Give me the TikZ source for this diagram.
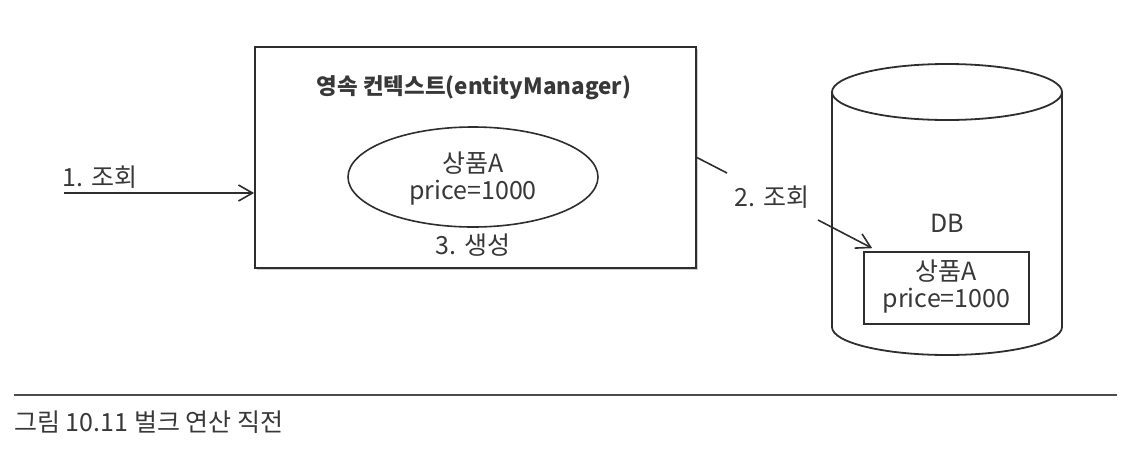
\documentclass[tikz,border=0pt]{standalone}
\usepackage{fontspec}
\setmainfont{Noto Sans CJK KR}
\usepackage{tikz}
\usetikzlibrary{arrows.meta,shapes.geometric,shadows,calc}
\tikzset{>={Straight Barb[length=7pt,width=8pt]}}
\usepackage{xcolor}
\colorlet{ink}{black!82}
\colorlet{textgray}{black!78}
\tikzstyle{txt}=[text=textgray,font=\fontsize{12.5}{13.5}\selectfont,inner sep=0,align=center]
\tikzstyle{ctxbox}=[draw=ink,line width=0.9pt,fill=white,minimum width=220.5pt,minimum height=110.5pt,
  drop shadow={shadow xshift=0.8pt,shadow yshift=-1pt,fill=black!40}]
\tikzstyle{entity}=[draw=ink,line width=0.8pt,ellipse,minimum width=125pt,minimum height=50pt,inner sep=0]
\tikzstyle{dbrow}=[draw=ink,line width=0.8pt,minimum width=82.5pt,minimum height=36pt,inner sep=0]

\begin{document}
\begin{tikzpicture}[x=0.5pt,y=-0.5pt]
				\useasboundingbox (0,0) rectangle (1142,456);
				% persistence context
				\node[ctxbox] at (475.5, 157.5)   (ctx) {};
				\node[txt,font=\fontsize{11.2}{13.5}\selectfont\bfseries] at (474, 88)   (ctxtitle) {영속 컨텍스트(entityManager)};
				\node[entity] at (473, 177)   (item) {};
				\node[txt] at (473, 178.5)   (itemtext) {상품A\\price=1000};
				\node[txt] at (473, 245)   (create) {3. 생성};
				
				% request
				\coordinate (in1) at (64, 193);
				\draw [->,ink,line width=0.8pt] (in1) -- (in1 -| ctx.west);
				\node[txt] at (100, 177)   (find1) {1. 조회};
				
				% database
				\draw [ink,line width=0.9pt,fill=white] (832, 92) -- (832, 327) arc[start angle=180, end angle=0, x radius=115, y radius=28] -- (1062, 92);
				\draw [ink,line width=0.9pt] (947, 92) ellipse [x radius=115, y radius=28];
				\node[txt] at (947, 223)   (db) {DB};
				\node[dbrow] at (946.5, 288)   (row) {};
				\node[txt] at (946.5, 287)   (rowtext) {상품A\\price=1000};
				
				% lookup in DB
				\coordinate (q1) at (727, 173);
				\coordinate (q2) at (818, 220);
				\draw [ink,line width=0.8pt] (ctx.east) -- (q1);
				\node[txt] at (772, 197)   (find2) {2. 조회};
				\draw [->,ink,line width=0.8pt] (q2) -- ($(row.north west)+(9,-3)$);
				
				% caption
				\draw [black!70,line width=0.7pt] (14, 395) -- (1117, 395);
				\node[txt,anchor=west,font=\fontsize{12.5}{14}\selectfont] at (14, 422)   (caption) {그림 10.11 벌크 연산 직전};
			\end{tikzpicture}
\end{document}
